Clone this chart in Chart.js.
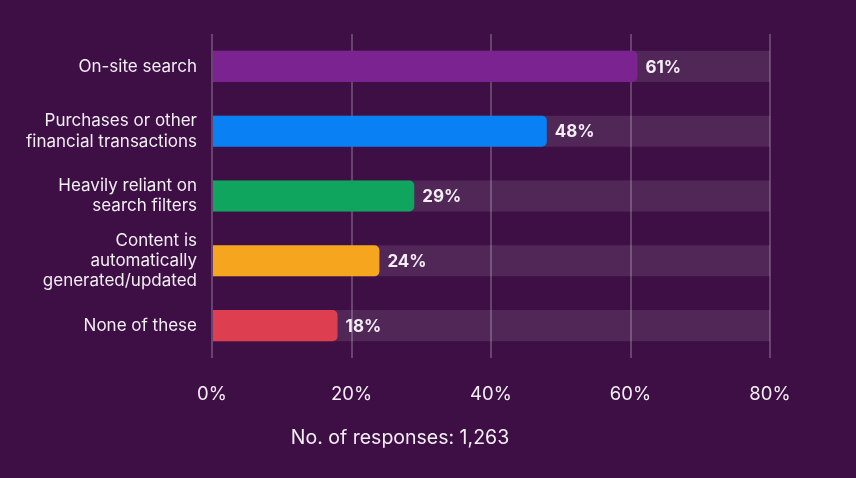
<!DOCTYPE html>
<html lang="en">
<head>
  <meta charset="UTF-8">
  <script src="https://cdn.jsdelivr.net/npm/chart.js"></script>
  <title>Chart</title>
  <style>
    html, body{margin: 0; padding: 0; background: #3d0f45;}
    #wrap{width: 856px; height: 478px;}
  </style>
</head>
<body>
  <div id="wrap">
    <canvas id="myChart"></canvas>
  </div>
  <script>
    // data
    const categories = [
      "On-site search",
      ["Purchases or other", "financial transactions"],
      ["Heavily reliant on", "search filters"],
      ["Content is", "automatically", "generated/updated"],
      "None of these"
    ];
    const shares = [61, 48, 29, 24, 18];
    const trackMax = [80, 80, 80, 80, 80];
    const barColors = ["#7b2391", "#0a80f5", "#10a55f", "#f5a51e", "#dd3f50"];
    const tickValues = [0, 20, 40, 60, 80];
    const footnote = "No. of responses: 1,263";

    const textColor = "#f4eef5";
    const fontFamily = "Inter, 'Noto Sans', sans-serif";

    // labels at bar end
    const valueLabels = {
      id: "valueLabels",
      afterDatasetsDraw(chart){
        const ctx = chart.ctx;
        const meta = chart.getDatasetMeta(1);
        ctx.save();
        ctx.font = "700 17px " + fontFamily;
        ctx.fillStyle = textColor;
        ctx.textAlign = "left";
        ctx.textBaseline = "middle";
        meta.data.forEach(function(bar, i){
          ctx.fillText(shares[i] + "%", bar.x + 8, bar.y + 1);
        });
        ctx.restore();
      }
    };

    // footnote under the axis
    const footText = {
      id: "footText",
      afterDraw(chart){
        const ctx = chart.ctx;
        ctx.save();
        ctx.font = "19.5px " + fontFamily;
        ctx.fillStyle = textColor;
        ctx.textAlign = "center";
        ctx.textBaseline = "middle";
        ctx.fillText(footnote, 400, 438);
        ctx.restore();
      }
    };

    const ctx = document.getElementById('myChart');
    new Chart(ctx, {
      type: 'bar',
      data: {
        labels: categories,
        datasets: [{
          label: 'track',
          data: trackMax,
          backgroundColor: 'rgba(255,255,255,0.1)',
          borderWidth: 0,
          grouped: false,
          order: 2,
          barPercentage: 0.48,
          categoryPercentage: 1
        }, {
          label: 'share',
          data: shares,
          backgroundColor: barColors,
          borderWidth: 0,
          borderRadius: {topRight: 5, bottomRight: 5},
          borderSkipped: 'start',
          grouped: false,
          order: 1,
          barPercentage: 0.48,
          categoryPercentage: 1
        }]
      },
      options: {
        indexAxis: 'y',
        responsive: true,
        maintainAspectRatio: false,
        animation: false,
        layout: {padding: {top: 34, right: 86, left: 0, bottom: 0}},
        plugins: {
          legend: {display: false},
          tooltip: {enabled: false}
        },
        scales: {
          x: {
            min: 0,
            max: 80,
            afterBuildTicks(scale){
              scale.ticks = tickValues.map(function(v){ return {value: v}; });
            },
            afterFit(scale){ scale.height = 120; },
            grid: {
              color: 'rgba(255,255,255,0.22)',
              lineWidth: 2,
              drawTicks: false
            },
            border: {display: false},
            ticks: {
              color: textColor,
              padding: 25,
              font: {family: fontFamily, size: 18.5},
              callback: function(v){ return v + '%'; }
            }
          },
          y: {
            afterFit(scale){ scale.width = 212; },
            grid: {display: false, drawTicks: false},
            border: {display: false},
            ticks: {
              color: textColor,
              padding: 15,
              font: {family: fontFamily, size: 17, lineHeight: 1.2}
            }
          }
        }
      },
      plugins: [valueLabels, footText]
    });
  </script>
</body>
</html>
